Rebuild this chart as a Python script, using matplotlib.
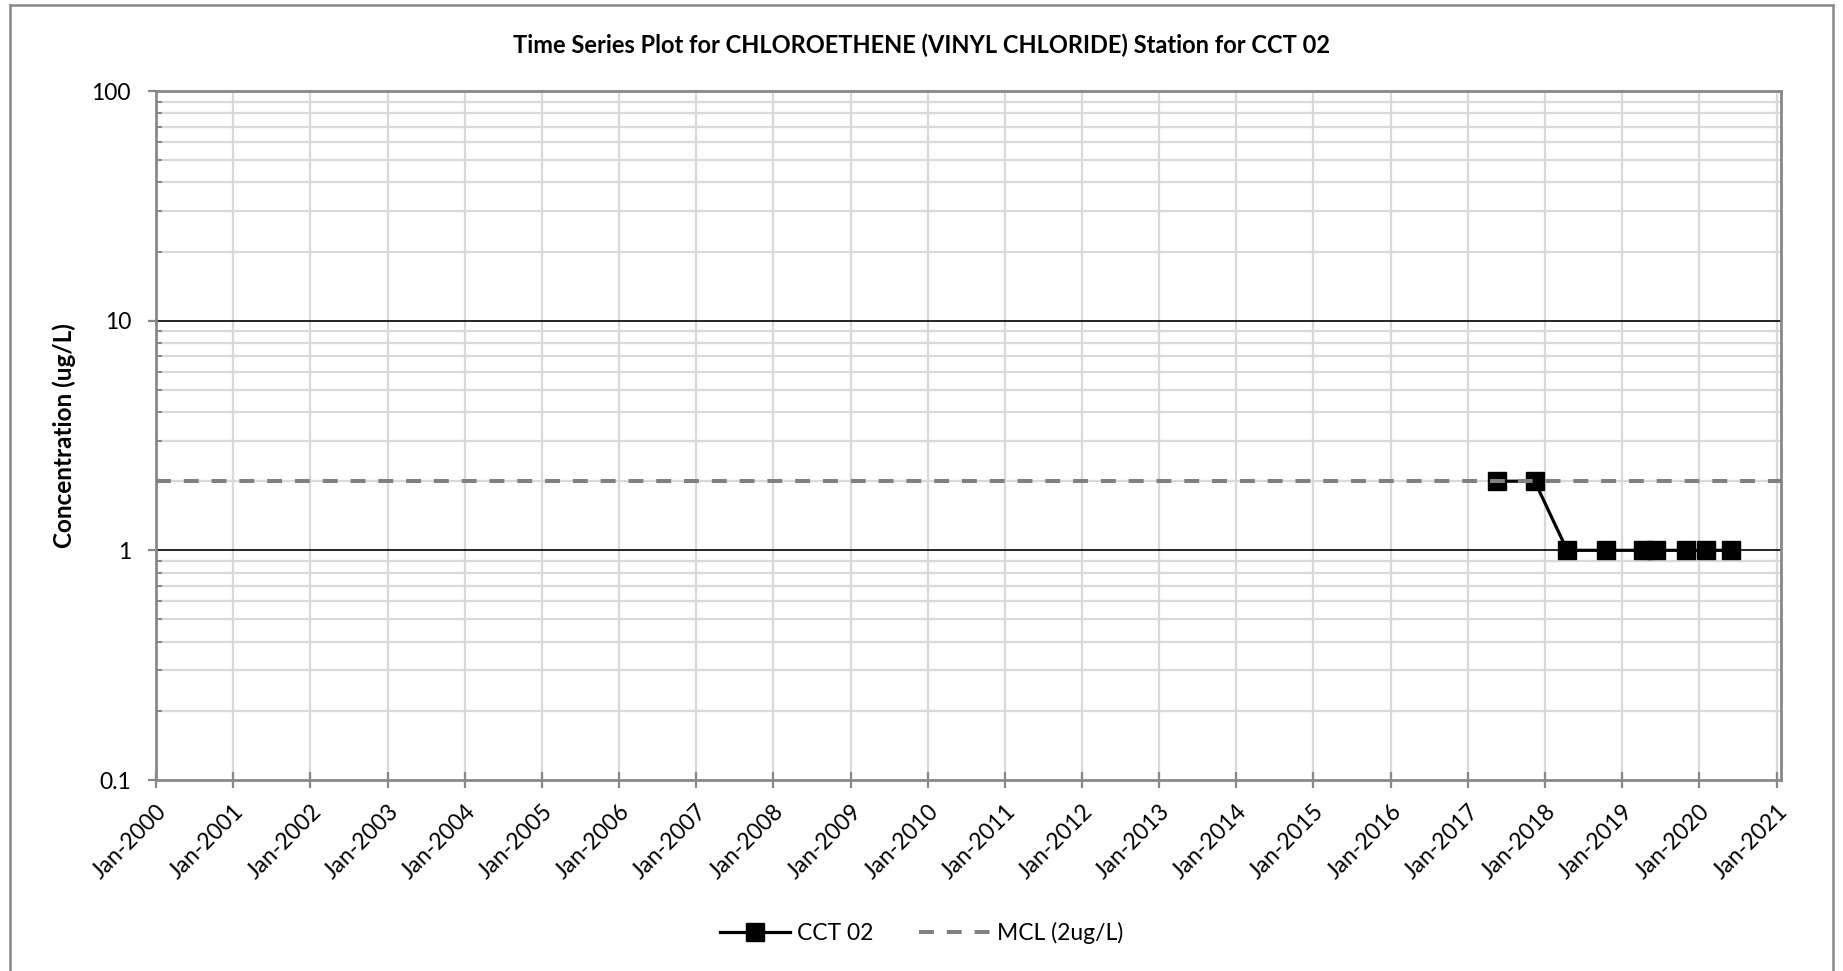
import matplotlib
matplotlib.use("Agg")
import matplotlib.pyplot as plt
import matplotlib.dates as mdates
from matplotlib.lines import Line2D
from matplotlib.ticker import LogLocator, NullFormatter, FixedFormatter, FixedLocator
import pandas as pd

# data
sample_dates = ['2017-05-17', '2017-11-13', '2018-04-16', '2018-10-15', '2019-04-09',
                '2019-06-10', '2019-10-30', '2020-02-03', '2020-05-28']
concentrations = [2, 2, 1, 1, 1, 1, 1, 1, 1]
mcl_value = 2
y_ticks = [0.1, 1, 10, 100]
y_labels = ['0.1', '1', '10', '100']
years = list(range(2000, 2022))

plt.rcParams['font.family'] = ['Lato', 'DejaVu Sans']

W, H = 1843, 971
fig = plt.figure(figsize=(W / 100, H / 100), dpi=100)
ax = fig.add_axes([156 / W, 1 - 780 / H, (1781 - 156) / W, (780 - 91) / H])

dates = pd.to_datetime(sample_dates)
ax.plot(dates, concentrations, color='black', lw=2.3, marker='s', markersize=12.5,
        label='CCT 02', zorder=4)
ax.axhline(mcl_value, color='#808080', lw=2.9, ls=(0, (3.7, 3.2)),
           label='MCL (2ug/L)', zorder=5)

ax.set_yscale('log')
ax.set_ylim(0.1, 100)
ax.yaxis.set_major_locator(FixedLocator(y_ticks))
ax.yaxis.set_major_formatter(FixedFormatter(y_labels))
ax.yaxis.set_minor_locator(LogLocator(base=10, subs=range(2, 10)))
ax.yaxis.set_minor_formatter(NullFormatter())

ax.set_xlim(pd.Timestamp('2000-01-01'), pd.Timestamp('2021-01-22'))
ax.set_xticks([pd.Timestamp(f'{y}-01-01') for y in years])
ax.xaxis.set_major_formatter(mdates.DateFormatter('%b-%Y'))

# gridlines
ax.grid(True, axis='x', which='major', color='#d9d9d9', lw=1.6, zorder=1)
ax.grid(True, axis='y', which='minor', color='#d9d9d9', lw=1.6, zorder=1)
for v in [1, 10]:
    ax.axhline(v, color='black', lw=1.2, zorder=2)
ax.set_axisbelow(True)

for s in ax.spines.values():
    s.set_color('#888888')
    s.set_linewidth(2)

ax.tick_params(axis='y', which='major', length=6, width=1.6, color='#888888',
               direction='out', labelsize=16.5, pad=12)
ax.tick_params(axis='y', which='minor', length=4.5, width=1.4, color='#888888',
               direction='in')
ax.tick_params(axis='x', which='major', length=12, width=1.6, color='#888888',
               direction='inout', labelsize=16.5, pad=9)
for lab in ax.get_xticklabels():
    lab.set_rotation(45)
    lab.set_ha('right')
    lab.set_rotation_mode('anchor')

ax.set_ylabel('Concentration (ug/L)', fontsize=17.5, fontweight='bold', labelpad=11)
fig.text(0.5, 1 - 45 / H, 'Time Series Plot for CHLOROETHENE (VINYL CHLORIDE) Station for CCT 02',
         ha='center', va='center', fontsize=17, fontweight='bold')

fig.legend(loc='center', bbox_to_anchor=(0.5, 1 - 933 / H), ncol=2, frameon=False,
           fontsize=16.5, handlelength=3.08, handletextpad=0.3, columnspacing=2.0)

# outer chart border
gray = '#888888'
fig.add_artist(Line2D([10 / W, 10 / W], [0, 1 - 5 / H], color=gray, lw=1.8))
fig.add_artist(Line2D([1833 / W, 1833 / W], [0, 1 - 5 / H], color=gray, lw=1.8))
fig.add_artist(Line2D([10 / W, 1833 / W], [1 - 5 / H, 1 - 5 / H], color=gray, lw=1.8))

fig.savefig('out.png', dpi=100)
